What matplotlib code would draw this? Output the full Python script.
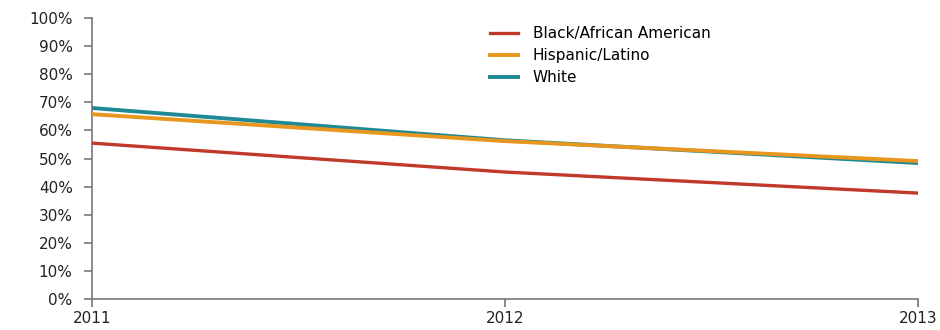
import matplotlib.pyplot as plt
from matplotlib.ticker import PercentFormatter

years = [2011, 2012, 2013]
black = [55.5, 45.2, 37.7]
hispanic = [65.8, 56.2, 49.1]
white = [68.0, 56.5, 48.4]

fig = plt.figure(figsize=(9.4, 3.3), dpi=100)
ax = fig.add_axes([0.098, 0.094, 0.879, 0.851])

ax.plot(years, white, color='#1f8a95', lw=2.8, label='White', zorder=2)
ax.plot(years, hispanic, color='#e8961e', lw=2.8, label='Hispanic/Latino', zorder=3)
ax.plot(years, black, color='#c0392b', lw=2.4, label='Black/African American', zorder=4)

ax.set_xlim(2011, 2013)
ax.set_ylim(0, 100)
ax.set_yticks(range(0, 101, 10))
ax.yaxis.set_major_formatter(PercentFormatter(decimals=0))
ax.set_xticks(years)
ax.set_xticklabels([str(y) for y in years])

for side in ['top', 'right']:
    ax.spines[side].set_visible(False)
for side in ['left', 'bottom']:
    ax.spines[side].set_color('#777777')
    ax.spines[side].set_linewidth(1.2)
ax.tick_params(axis='both', colors='#777777', labelcolor='#222222',
               labelsize=11, length=6, width=1.2)
ax.tick_params(axis='y', pad=8)
ax.tick_params(axis='x', pad=3)

h, l = ax.get_legend_handles_labels()
order = [2, 1, 0]
ax.legend([h[i] for i in order], [l[i] for i in order], loc='upper left',
          bbox_to_anchor=(0.465, 1.02), frameon=False, fontsize=11,
          handlelength=1.8, handletextpad=1.0, labelspacing=0.45)

fig.savefig('out.png')
